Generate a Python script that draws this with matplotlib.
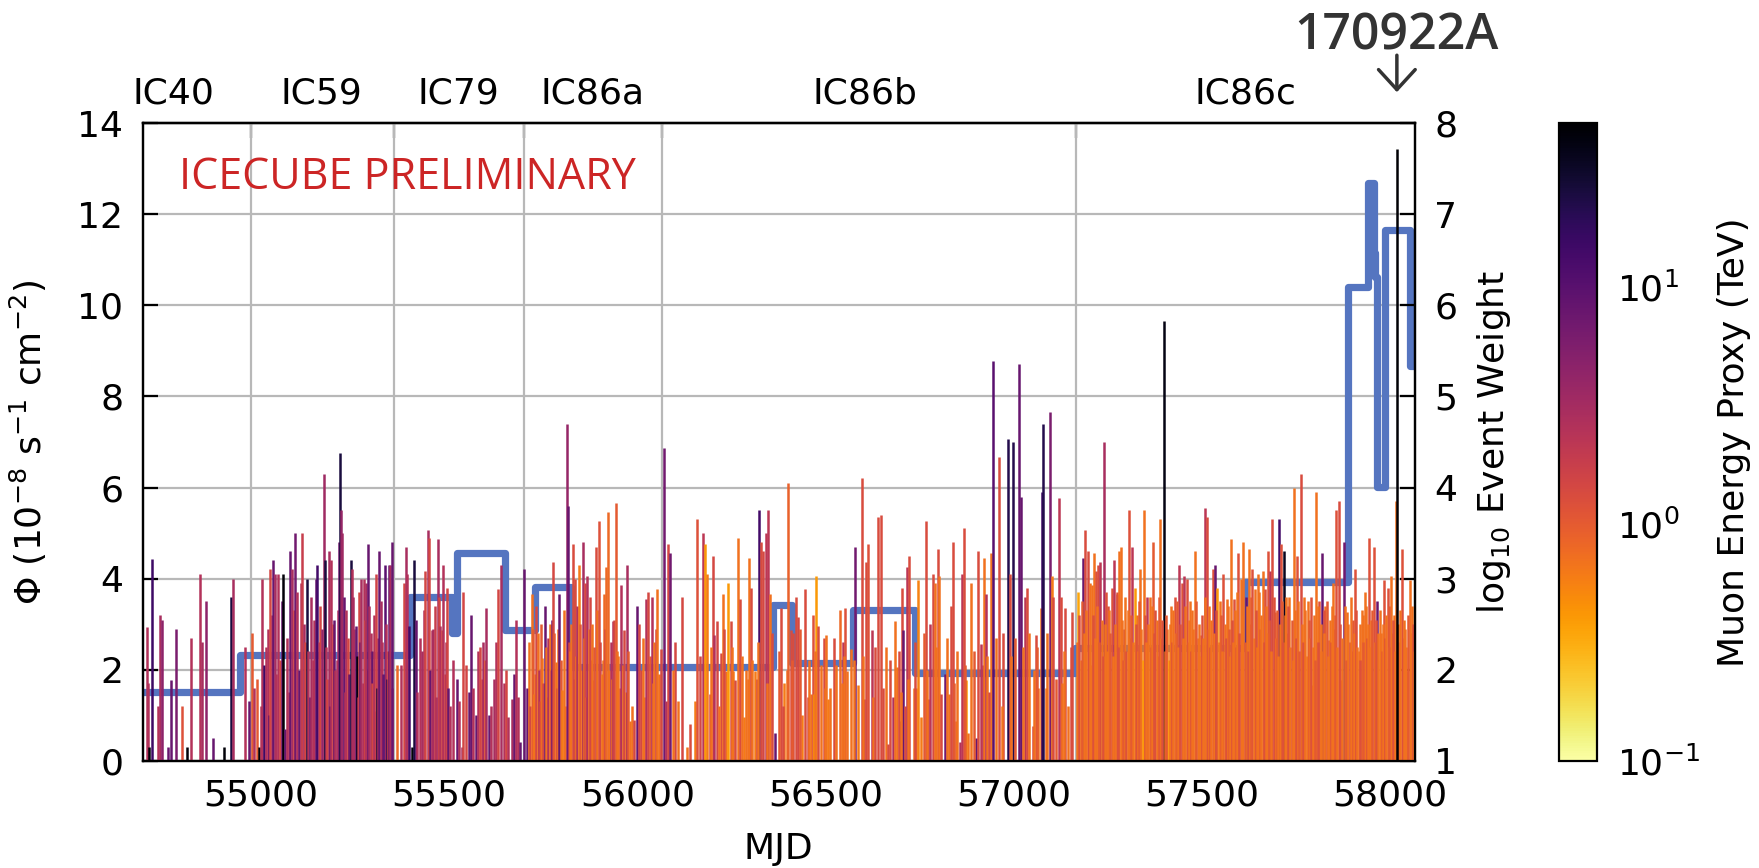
import matplotlib
matplotlib.use("Agg")
import matplotlib.pyplot as plt
import matplotlib.transforms as mtransforms
from matplotlib.colors import LogNorm
from matplotlib.cm import ScalarMappable

plt.rcParams['font.family'] = ['DejaVu Sans']
plt.rcParams['mathtext.fontset'] = 'dejavusans'

# ---------------------------------------------------------------- seasons
season_names = ["IC40", "IC59", "IC79", "IC86a", "IC86b", "IC86c"]
season_label_mjd = [54766, 55161, 55524, 55881, 56604, 57617]
season_bounds = [54973, 55353, 55698, 56067, 57167]

# ---------------------------------------------------------------- flux (10^-8 s^-1 cm^-2)
flux_edges = [54562, 54945, 55397, 55508, 55520, 55648, 55728, 55825, 56361, 56411,
              56573, 56738, 57163, 57615, 57890, 57942, 57958, 57962, 57966, 57988,
              58054, 58066]
flux_values = [1.51, 2.32, 3.60, 2.80, 4.56, 2.87, 3.82, 2.06, 3.42, 2.14,
               3.31, 1.93, 2.47, 3.93, 10.41, 12.68, 11.16, 10.63, 6.02, 11.66,
               8.66]

# ---------------------------------------------------------------- events: MJD, log10 weight, muon energy proxy (TeV)
ic40_mjd = [54696, 54700, 54702, 54709, 54725, 54731, 54738, 54752, 54762, 54773,
            54789, 54802, 54815, 54839, 54844, 54855, 54873, 54901, 54919, 54926,
            54957, 54968]
ic40_logw = [2.47, 1.85, 1.15, 3.22, 1.6, 2.6, 2.55, 1.15, 1.88, 2.45,
             1.6, 1.15, 2.35, 3.05, 2.3, 2.75, 1.25, 1.15, 2.8, 3.0,
             2.25, 1.65]
ic40_energy = [2.5, 2.5, 45, 15, 2.5, 3, 4.5, 8, 8, 6,
               1.2, 45, 2.5, 2.5, 3, 4.5, 8, 45, 25, 3,
               2.5, 8]

ic59_mjd = [54975, 54981, 54990, 54994, 55000, 55003, 55007, 55013, 55018, 55021,
            55025, 55029, 55032, 55037, 55041, 55046, 55051, 55055, 55059, 55065,
            55070, 55074, 55078, 55083, 55087, 55090, 55096, 55100, 55105, 55110,
            55115, 55118, 55121, 55126, 55130, 55134, 55137, 55140, 55145, 55150,
            55155, 55158, 55162, 55167, 55170, 55173, 55176, 55181, 55184, 55187,
            55190, 55194, 55197, 55201, 55204, 55207, 55211, 55212, 55216, 55220,
            55222, 55227, 55231, 55234, 55238, 55242, 55245, 55247, 55252, 55255,
            55258, 55261, 55264, 55267, 55270, 55273, 55276, 55279, 55282, 55285,
            55288, 55291, 55294, 55296, 55300, 55302, 55305, 55309, 55312, 55314,
            55318, 55322, 55325, 55329, 55332, 55334, 55338, 55341, 55344, 55347]
ic59_logw = [2.4, 1.8, 1.9, 1.15, 1.6, 3.0, 2.05, 2.25, 2.45, 1.5,
             3.1, 2.6, 3.2, 3.05, 1.95, 3.05, 2.1, 2.75, 3.05, 1.35,
             2.35, 1.75, 3.3, 3.1, 2.65, 3.5, 2.85, 2.0, 2.95, 3.5,
             2.5, 2.3, 3.0, 2.2, 1.7, 2.8, 2.1, 2.55, 3.0, 3.15,
             2.3, 2.7, 2.45, 4.15, 3.2, 2.25, 1.9, 3.3, 1.6, 3.2,
             2.5, 2.55, 2.0, 2.1, 2.65, 3.4, 4.38, 3.75, 3.5, 2.8,
             1.75, 2.65, 2.35, 1.95, 3.2, 3.1, 2.8, 2.45, 2.48, 2.15,
             1.7, 2.85, 2.3, 3.0, 1.85, 3.0, 2.55, 2.95, 2.0, 3.38,
             2.7, 2.4, 2.2, 1.85, 2.6, 1.55, 3.05, 1.8, 2.35, 3.3,
             2.75, 2.3, 1.95, 3.15, 2.5, 1.9, 2.2, 3.15, 3.15, 1.8]
ic59_energy = [1.0, 2.5, 1.0, 45, 2.5, 2.5, 15, 2.5, 2.5, 8,
               1.5, 2.5, 8, 3, 2.5, 2.5, 1.5, 8, 45, 8,
               2.5, 2.5, 8, 3, 1.5, 7, 2.5, 8, 2.5, 1.8,
               3, 1.5, 25, 2.5, 8, 3, 2.5, 2.5, 8, 14,
               3, 1.5, 4, 3.5, 25, 2.5, 1.5, 3, 8, 2.5,
               1.5, 8, 2.5, 3, 2.5, 7, 25, 4, 3.5, 8,
               2.5, 2.5, 1.5, 8, 25, 2.5, 3, 3, 8, 40,
               2.5, 1.5, 8, 3, 2.5, 2.5, 1.5, 3, 2.5, 8,
               3, 2.5, 8, 1.5, 2.5, 2.5, 1.6, 25, 2.5, 8,
               3, 2.5, 8, 10, 2.5, 20, 1.5, 8, 3, 2.5]

ic79_mjd = [55349, 55362, 55373, 55380, 55385, 55389, 55394, 55400, 55406, 55411,
            55415, 55422, 55429, 55433, 55437, 55443, 55447, 55450, 55454, 55458,
            55463, 55466, 55469, 55472, 55475, 55480, 55484, 55489, 55492, 55495,
            55498, 55502, 55511, 55520, 55527, 55533, 55536, 55545, 55553, 55558,
            55563, 55570, 55577, 55583, 55587, 55590, 55594, 55598, 55606, 55612,
            55620, 55625, 55630, 55639, 55645, 55651, 55657, 55667, 55672, 55677,
            55683, 55688]
ic79_logw = [3.4, 2.05, 2.05, 2.95, 3.35, 3.05, 2.48, 1.15, 3.2, 2.55,
             1.75, 2.35, 2.2, 2.65, 3.08, 3.53, 3.45, 2.0, 2.43, 2.45,
             2.7, 1.7, 3.43, 2.8, 2.48, 2.43, 3.15, 1.95, 2.3, 2.9,
             1.8, 1.6, 2.1, 1.9, 1.65, 1.15, 2.85, 2.05, 1.75, 2.6,
             1.8, 1.5, 2.2, 2.25, 1.9, 2.3, 2.1, 2.68, 1.5, 1.6,
             1.9, 2.3, 2.88, 3.15, 1.85, 2.0, 1.48, 1.68, 1.95, 2.55,
             1.7, 1.2]
ic79_energy = [8, 0.8, 2.5, 1.5, 3, 2.5, 14, 45, 25, 8,
               2.5, 2.5, 3, 2.5, 1.5, 3, 1.5, 8, 2.5, 3,
               1.8, 2.5, 3, 1.5, 2.5, 1.5, 2.5, 1.6, 2.5, 1.5,
               8, 2.5, 2.5, 8, 2.5, 3, 1.5, 1.5, 8, 8,
               2.5, 8, 2.5, 1.5, 1.5, 3, 1.0, 3, 8, 2.5,
               3, 2.5, 1.5, 3, 2.5, 1.5, 2.5, 3, 8, 2.5,
               2.5, 8]

ic86a_mjd = [55698, 55707, 55713, 55716, 55719, 55722, 55725, 55729, 55732, 55735,
             55738, 55741, 55744, 55747, 55750, 55754, 55757, 55760, 55763, 55767,
             55770, 55772, 55775, 55779, 55783, 55786, 55789, 55792, 55796, 55801,
             55805, 55809, 55812, 55815, 55818, 55821, 55825, 55828, 55831, 55834,
             55838, 55841, 55845, 55849, 55852, 55855, 55858, 55861, 55864, 55867,
             55871, 55874, 55877, 55880, 55883, 55886, 55890, 55893, 55897, 55900,
             55905, 55908, 55911, 55914, 55918, 55923, 55926, 55929, 55932, 55936,
             55939, 55943, 55946, 55949, 55953, 55958, 55961, 55965, 55969, 55973,
             55976, 55980, 55985, 55992, 55999, 56005, 56010, 56016, 56019, 56023,
             56029, 56033, 56038, 56041, 56045, 56049, 56053, 56057, 56063]
ic86a_logw = [3.1, 1.8, 2.3, 1.6, 2.83, 2.45, 1.73, 1.95, 2.7, 2.4,
              2.0, 1.65, 2.5, 2.13, 1.85, 2.7, 2.25, 1.7, 2.35, 2.5,
              2.0, 2.55, 3.18, 2.4, 2.08, 1.8, 2.45, 2.83, 2.1, 1.78,
              2.65, 1.6, 4.7, 3.8, 2.3, 2.2, 2.5, 3.38, 1.9, 3.0,
              2.15, 2.7, 3.15, 2.5, 2.0, 3.4, 2.35, 2.95, 1.7, 3.03,
              2.45, 2.8, 2.1, 2.5, 1.88, 2.25, 3.35, 2.65, 3.63, 2.3,
              1.95, 2.1, 2.83, 2.45, 3.13, 3.73, 2.0, 2.3, 1.9, 2.53,
              2.55, 3.83, 2.2, 2.15, 1.8, 2.93, 2.05, 2.43, 1.75, 3.15,
              2.2, 1.43, 1.6, 1.45, 2.7, 2.5, 2.0, 2.35, 1.7, 2.78,
              2.85, 2.15, 2.8, 1.85, 2.3, 2.45, 2.88, 1.95, 2.23]
ic86a_energy = [8, 8, 0.7, 1.4, 0.7, 1.0, 0.6, 0.7, 1.4, 0.7,
                2.5, 1.4, 1.0, 0.7, 1.4, 8, 0.7, 0.7, 2.5, 0.7,
                1.4, 7, 1.4, 1.0, 0.7, 1.4, 0.7, 8, 1.0, 0.6,
                0.7, 0.7, 4, 8, 1.4, 0.7, 0.7, 1.3, 1.4, 1.3,
                0.7, 2.5, 0.6, 1.0, 0.7, 3, 0.7, 1.4, 1.0, 2.5,
                0.7, 1.4, 1.4, 0.7, 0.7, 1.0, 1.3, 0.7, 1.2, 1.4,
                0.6, 0.7, 0.8, 1.4, 0.8, 0.8, 0.7, 2.5, 0.7, 2.5,
                1.4, 1.0, 0.7, 0.7, 1.0, 2.5, 0.7, 1.4, 0.7, 3,
                1.0, 0.7, 0.7, 1.4, 8, 1.4, 1.4, 0.7, 0.7, 2.5,
                1.4, 1.0, 2.5, 0.7, 0.7, 1.4, 0.7, 0.7, 1.4]

ic86b_mjd = [56070, 56076, 56082, 56087, 56100, 56107, 56118, 56131, 56153, 56160,
             56166, 56174, 56180, 56184, 56193, 56200, 56204, 56211, 56222, 56227,
             56235, 56242, 56248, 56255, 56261, 56268, 56273, 56284, 56290, 56297,
             56302, 56312, 56318, 56324, 56329, 56335, 56342, 56348, 56352, 56357,
             56366, 56383, 56391, 56397, 56401, 56408, 56414, 56422, 56428, 56437,
             56446, 56454, 56461, 56466, 56470, 56476, 56481, 56488, 56495, 56501,
             56506, 56512, 56523, 56539, 56546, 56553, 56558, 56567, 56579, 56587,
             56596, 56602, 56609, 56614, 56623, 56640, 56649, 56660, 56667, 56679,
             56684, 56691, 56698, 56704, 56705, 56711, 56717, 56723, 56736, 56742,
             56747, 56754, 56767, 56773, 56778, 56785, 56791, 56798, 56802, 56806,
             56818, 56829, 56833, 56840, 56846, 56858, 56862, 56868, 56875, 56879,
             56886, 56900, 56906, 56913, 56918, 56922, 56927, 56939, 56945, 56962,
             56973, 56986, 56990, 56999, 57015, 57020, 57031, 57037, 57051, 57060,
             57066, 57072, 57076, 57077, 57090, 57096, 57101, 57105, 57120, 57126,
             57137, 57144, 57156,
             56094, 56140, 56197, 56218, 56231, 56251, 56278, 56293, 56305, 56321,
             56345, 56376, 56387, 56411, 56432, 56457, 56473, 56498, 56527, 56543,
             56550, 56575, 56599, 56627, 56631, 56653, 56672, 56695, 56701, 56720,
             56739, 56762, 56770, 56795, 56822, 56843, 56850, 56872, 56895, 56930,
             56934, 56953, 56969, 56994, 57004, 57025, 57041, 57055, 57063, 57085,
             57113, 57130, 57134, 57152]
ic86b_logw = [4.43, 1.65, 3.38, 3.28, 2.3, 1.65, 2.8, 1.15, 1.65, 3.65,
              2.15, 3.5, 3.38, 3.05, 1.73, 3.25, 2.38, 2.53, 2.18, 2.83,
              1.98, 2.95, 2.53, 1.98, 1.88, 3.45, 2.78, 1.48, 2.0, 3.23,
              2.9, 1.98, 1.9, 3.75, 3.4, 3.3, 3.5, 3.75, 2.83, 2.4,
              1.3, 2.68, 1.85, 2.0, 4.05, 2.43, 2.4, 2.8, 2.58, 1.5,
              2.88, 1.7, 1.73, 2.6, 1.73, 3.03, 2.48, 2.05, 2.35, 2.38,
              1.68, 1.8, 2.35, 2.65, 2.3, 2.68, 1.98, 2.23, 3.35, 1.83,
              4.1, 1.68, 3.18, 3.38, 2.43, 3.68, 3.7, 2.25, 1.18, 1.7,
              2.53, 2.03, 1.43, 2.9, 2.43, 1.6, 3.13, 3.25, 1.8, 1.8,
              2.98, 1.48, 3.63, 1.68, 2.5, 3.05, 2.95, 3.33, 3.03, 1.73,
              1.95, 1.73, 2.7, 3.4, 1.43, 1.2, 3.05, 3.55, 1.88, 1.3,
              2.95, 1.25, 3.3, 2.28, 2.05, 3.23, 2.83, 3.28, 5.39, 4.33,
              2.4, 4.53, 3.05, 4.5, 5.36, 3.9, 2.8, 2.9, 1.38, 2.38,
              1.8, 2.68, 3.95, 4.7, 2.4, 4.83, 3.03, 2.8, 3.88, 2.8,
              2.68, 1.6, 2.63,
              2.0, 1.4, 2.25, 1.6, 2.45, 2.25, 2.15, 1.9, 2.1, 2.3,
              1.85, 2.2, 1.6, 2.1, 2.45, 2.1, 2.2, 1.8, 2.05, 1.85,
              2.15, 2.1, 2.15, 1.7, 2.25, 1.8, 2.1, 2.2, 1.75, 1.9,
              2.3, 2.4, 2.0, 2.25, 2.35, 1.85, 2.2, 2.05, 2.2, 2.15,
              1.75, 2.35, 1.6, 2.15, 2.35, 2.25, 2.4, 2.0, 2.25, 1.8,
              1.9, 1.85, 2.2, 2.25]
ic86b_energy = [7, 2.5, 1.4, 7, 1.4, 0.7, 1.4, 0.7, 0.6, 1.2,
                1.4, 2.2, 0.4, 0.6, 1.4, 1.4, 2.5, 1.4, 1.3, 0.7,
                0.7, 0.4, 1.3, 0.6, 1.3, 0.7, 1.3, 0.6, 0.7, 0.7,
                1.3, 0.6, 1.3, 14, 1.3, 1.4, 2.2, 2.2, 0.7, 1.3,
                8, 1.3, 0.6, 0.7, 0.9, 1.3, 1.3, 1.3, 1.4, 0.6,
                1.3, 1.3, 0.7, 1.2, 0.4, 0.4, 1.3, 0.7, 1.3, 0.7,
                0.6, 0.7, 1.3, 0.8, 2.2, 1.2, 0.7, 0.7, 7, 0.6,
                1.3, 2.2, 1.3, 1.2, 2.2, 1.3, 1.3, 0.7, 1.3, 2.5,
                0.7, 0.7, 8, 1.3, 8, 1.3, 2.2, 1.3, 0.7, 0.7,
                0.55, 0.6, 1.3, 1.3, 2.2, 1.3, 0.7, 1.3, 0.7, 1.3,
                7, 0.7, 1.3, 1.3, 0.7, 2.5, 2.2, 1.3, 0.4, 0.7,
                0.7, 8, 1.3, 2.2, 2.2, 0.7, 2.5, 0.7, 10, 1.3,
                1.3, 22, 1.3, 22, 8, 8, 2.2, 1.3, 1.3, 1.3,
                0.7, 0.7, 14, 22, 0.7, 6, 0.6, 1.3, 2.2, 1.3,
                1.3, 0.7, 1.3,
                0.7, 1.3, 0.7, 0.7, 1.3, 0.7, 0.7, 0.7, 0.7, 0.7,
                0.7, 1.0, 1.3, 1.0, 1.0, 0.7, 0.7, 0.7, 0.7, 0.7,
                0.7, 0.7, 0.7, 0.7, 1.3, 1.3, 1.3, 1.3, 0.7, 0.7,
                1.3, 1.0, 0.7, 0.7, 0.7, 1.0, 0.7, 1.0, 1.0, 0.7,
                1.3, 0.7, 0.7, 0.7, 1.0, 0.7, 0.7, 0.7, 1.0, 0.7,
                1.0, 0.7, 0.7, 1.3]

ic86c_mjd = [57172, 57184, 57190, 57197, 57208, 57214, 57219, 57225, 57231, 57240,
             57246, 57252, 57254, 57261, 57267, 57274, 57276, 57281, 57285, 57294,
             57306, 57315, 57322, 57328, 57337, 57346, 57355, 57362, 57370, 57377,
             57389, 57400, 57409, 57419, 57428, 57440, 57447, 57453, 57460, 57469,
             57482, 57489, 57498, 57508, 57513, 57529, 57535, 57542, 57549, 57558,
             57567, 57578, 57586, 57597, 57604, 57611, 57618, 57626, 57635, 57641,
             57650, 57662, 57668, 57677, 57682, 57688, 57695, 57706, 57711, 57718,
             57724, 57733, 57745, 57754, 57763, 57773, 57782, 57793, 57805, 57813,
             57821, 57829, 57838, 57849, 57858, 57864, 57871, 57878, 57887, 57907,
             57917, 57925, 57933, 57945, 57951, 57958, 57967, 57976, 57985, 57994,
             58002, 58011, 58016, 58032, 58040, 58046, 58053, 58059,
             57170, 57175, 57178, 57181, 57187, 57193, 57200, 57203, 57205, 57211,
             57216, 57222, 57228, 57234, 57237, 57243, 57249, 57257, 57264, 57270,
             57278, 57288, 57291, 57297, 57300, 57303, 57309, 57312, 57318, 57325,
             57331, 57334, 57340, 57343, 57349, 57352, 57358, 57365, 57367, 57373,
             57380, 57383, 57386, 57392, 57395, 57403, 57406, 57412, 57415, 57422,
             57425, 57431, 57434, 57437, 57443, 57450, 57456, 57463, 57466, 57472,
             57475, 57478, 57485, 57492, 57495, 57501, 57504, 57510, 57516, 57519,
             57522, 57525, 57532, 57538, 57545, 57552, 57555, 57561, 57564, 57570,
             57573, 57576, 57581, 57583, 57589, 57592, 57594, 57600, 57607, 57614,
             57621, 57623, 57629, 57632, 57638, 57644, 57647, 57653, 57656, 57659,
             57665, 57671, 57674, 57680, 57685, 57691, 57698, 57701, 57703, 57708,
             57714, 57716, 57721, 57727, 57730, 57736, 57739, 57742, 57748, 57751,
             57757, 57760, 57766, 57769, 57776, 57779, 57785, 57788, 57791, 57796,
             57799, 57802, 57808, 57810, 57816, 57818, 57824, 57826, 57832, 57835,
             57841, 57844, 57846, 57852, 57855, 57861, 57867, 57874, 57881, 57884,
             57890, 57893, 57896, 57899, 57902, 57904, 57910, 57913, 57920, 57922,
             57928, 57930, 57936, 57939, 57942, 57948, 57954, 57961, 57964, 57970,
             57973, 57979, 57982, 57988, 57991, 57997, 57999, 58005, 58008, 58013,
             58022, 58025, 58028, 58035, 58037, 58043, 58049, 58056, 58062, 58065]
ic86c_logw = [2.85, 3.23, 3.53, 3.3, 2.93, 3.28, 3.08, 3.15, 3.18, 4.5,
              2.85, 2.7, 2.65, 2.9, 3.2, 2.83, 2.85, 3.3, 3.35, 2.45,
              3.75, 3.35, 2.9, 2.6, 3.1, 3.75, 2.8, 2.8, 3.4, 2.65,
              3.65, 5.83, 2.45, 2.7, 2.8, 3.15, 2.95, 3.03, 3.0, 2.75,
              3.3, 2.35, 2.38, 3.78, 3.68, 3.1, 3.15, 2.9, 2.75, 3.05,
              2.78, 3.43, 2.78, 3.28, 3.0, 3.4, 2.8, 3.33, 3.1, 2.88,
              3.05, 3.08, 2.88, 3.3, 3.08, 3.65, 2.63, 3.65, 3.38, 3.3,
              2.8, 2.8, 4.0, 3.25, 4.15, 2.8, 2.75, 1.83, 3.95, 2.75,
              3.28, 2.7, 2.33, 2.95, 3.75, 3.85, 1.88, 3.4, 2.63, 3.1,
              2.2, 2.65, 2.85, 3.45, 2.55, 3.35, 2.75, 2.4, 2.98, 2.9,
              3.03, 2.6, 3.85, 3.33, 2.45, 1.98, 2.98, 2.7,
              2.3, 2.6, 2.1, 2.75, 2.4, 2.65, 2.25, 2.95, 2.05, 2.6,
              2.35, 2.7, 2.3, 2.55, 2.15, 2.5, 2.2, 2.4, 2.15, 2.5,
              2.25, 2.55, 2.1, 2.8, 2.2, 2.65, 2.35, 2.6, 2.3, 2.5,
              2.2, 2.75, 2.45, 2.1, 2.6, 2.3, 2.5, 2.25, 2.7, 2.4,
              2.55, 2.15, 2.8, 2.35, 2.55, 2.2, 2.6, 2.1, 2.5, 2.3,
              2.65, 2.4, 2.75, 2.25, 2.5, 2.35, 2.7, 2.3, 2.55, 2.2,
              2.65, 2.45, 2.75, 2.5, 2.15, 2.6, 2.35, 2.8, 2.45, 2.7,
              2.25, 2.55, 2.4, 2.65, 2.3, 2.6, 2.2, 2.5, 2.35, 2.7,
              2.45, 2.15, 2.55, 2.3, 2.65, 2.25, 2.85, 2.4, 2.6, 2.3,
              2.7, 2.2, 2.5, 2.8, 2.35, 2.65, 2.25, 2.85, 2.45, 2.6,
              2.3, 2.7, 2.4, 2.55, 2.2, 2.8, 2.35, 2.65, 2.15, 2.5,
              2.75, 2.3, 2.6, 2.4, 2.7, 2.25, 2.55, 2.1, 2.65, 2.35,
              2.75, 2.2, 2.5, 2.3, 2.65, 2.15, 2.55, 2.35, 2.8, 2.25,
              2.6, 2.1, 2.7, 2.3, 2.5, 2.2, 2.65, 2.4, 2.75, 2.15,
              2.55, 2.3, 2.7, 2.45, 2.6, 2.25, 2.5, 2.35, 2.7, 2.1,
              2.5, 2.3, 2.8, 2.2, 2.55, 2.4, 2.65, 2.25, 2.5, 2.1,
              2.6, 2.3, 2.7, 2.35, 2.5, 2.25, 2.65, 2.3, 2.55, 2.4,
              2.65, 2.2, 2.5, 2.35, 2.6, 2.25, 2.7, 2.4, 2.55, 2.2,
              2.5, 2.3, 2.65, 2.35, 2.55, 2.25, 2.6, 2.4, 2.5, 2.2]
ic86c_energy = [0.35, 8, 1.3, 1.3, 0.7, 0.7, 1.2, 1.3, 2.2, 3,
                1.2, 1.2, 0.7, 1.2, 2.2, 1.2, 1.2, 0.7, 0.7, 2.2,
                1.2, 2.2, 0.4, 0.7, 0.7, 0.7, 2.2, 0.7, 1.0, 1.2,
                0.7, 40, 0.6, 0.7, 1.2, 2.2, 1.2, 2.2, 1.2, 0.7,
                0.7, 0.6, 1.2, 2.2, 1.3, 1.2, 8, 0.4, 0.7, 1.2,
                0.7, 0.7, 1.2, 1.2, 0.7, 0.7, 8, 0.7, 1.2, 0.7,
                0.7, 0.7, 1.2, 1.2, 2.2, 1.3, 0.7, 14, 1.2, 35,
                0.7, 0.7, 0.7, 1.2, 1.3, 0.7, 0.7, 0.7, 0.7, 1.2,
                8, 0.7, 1.2, 0.7, 1.2, 1.3, 1.2, 7, 0.7, 1.2,
                0.7, 0.7, 0.7, 1.2, 0.7, 1.2, 8, 0.7, 1.2, 1.2,
                0.7, 0.7, 0.7, 1.2, 0.7, 1.2, 0.7, 0.7,
                0.7, 1.2, 0.7, 1.0, 0.7, 0.7, 1.2, 0.7, 0.7, 1.2,
                0.7, 0.7, 1.0, 0.7, 1.2, 0.7, 0.7, 1.0, 0.7, 0.7,
                1.2, 0.7, 1.0, 0.7, 1.2, 0.7, 0.7, 1.0, 0.7, 1.2,
                0.7, 1.0, 0.7, 0.4, 1.2, 0.7, 0.7, 1.0, 0.7, 1.2,
                0.7, 0.7, 1.0, 0.7, 1.2, 0.7, 1.0, 0.4, 0.7, 1.2,
                0.7, 0.7, 1.0, 0.7, 1.2, 0.7, 0.7, 1.0, 0.7, 1.2,
                0.7, 0.7, 1.0, 0.7, 0.7, 1.2, 0.7, 0.7, 1.0, 0.7,
                1.2, 0.7, 0.7, 1.2, 0.7, 1.0, 0.7, 0.7, 1.2, 0.7,
                1.0, 0.7, 1.2, 0.7, 0.7, 1.0, 0.7, 1.2, 0.7, 1.0,
                0.7, 1.2, 0.7, 1.0, 0.7, 1.2, 0.7, 0.7, 1.0, 0.7,
                1.2, 0.7, 0.7, 1.0, 0.7, 1.2, 0.7, 1.0, 0.7, 0.7,
                1.0, 1.2, 0.7, 0.7, 1.2, 0.7, 1.0, 0.7, 0.7, 1.2,
                0.7, 1.0, 0.7, 1.2, 0.7, 0.7, 1.0, 0.7, 1.2, 0.7,
                0.7, 1.0, 0.7, 1.2, 0.7, 0.7, 1.2, 0.7, 1.0, 0.7,
                0.7, 1.2, 0.7, 0.7, 1.0, 0.7, 1.2, 0.7, 0.7, 1.0,
                0.7, 1.2, 0.7, 0.7, 1.0, 0.7, 1.2, 0.7, 0.7, 1.2,
                0.7, 1.0, 0.7, 1.2, 0.7, 0.7, 1.0, 0.7, 1.2, 0.7,
                0.7, 1.0, 0.7, 1.2, 0.7, 0.7, 1.0, 0.7, 1.2, 0.7,
                0.7, 1.0, 0.7, 1.2, 0.7, 0.7, 1.0, 0.7, 1.2, 0.7]

# IceCube-170922A
alert_mjd = 58018.87
alert_logw = 7.72
alert_energy = 290.0
alert_name = "170922A"

# ---------------------------------------------------------------- figure
fig = plt.figure(figsize=(17.59, 8.68), dpi=100)
ax = fig.add_axes([0.08124, 0.12373, 0.72297, 0.73410])
ax2 = ax.twinx()
cax = fig.add_axes([0.88630, 0.12373, 0.02177, 0.73410])

grid_color = '#b8b8b8'
ax.set_xlim(54686, 58066)
ax.set_ylim(0, 14)
ax2.set_ylim(1, 8)

ax.set_yticks(range(0, 15, 2))
ax.yaxis.grid(True, color=grid_color, linewidth=1.6)
for b in season_bounds:
    ax.axvline(b, color=grid_color, linewidth=1.6, zorder=0.8)
ax.set_axisbelow(True)

# flux light curve
ax.stairs(flux_values, flux_edges, baseline=None, fill=False,
          color='#5575c0', linewidth=5.2, joinstyle='round', capstyle='round',
          zorder=2)

# event weights coloured by energy
cmap = plt.get_cmap('inferno_r')
norm = LogNorm(vmin=0.1, vmax=49)
seasons = [(ic40_mjd, ic40_logw, ic40_energy),
           (ic59_mjd, ic59_logw, ic59_energy),
           (ic79_mjd, ic79_logw, ic79_energy),
           (ic86a_mjd, ic86a_logw, ic86a_energy),
           (ic86b_mjd, ic86b_logw, ic86b_energy),
           (ic86c_mjd, ic86c_logw, ic86c_energy)]
for mjd, logw, energy in seasons:
    ax2.vlines(mjd, 1, logw, colors=cmap(norm(energy)), linewidth=1.8)
ax2.vlines([alert_mjd], 1, [alert_logw], colors=[cmap(norm(alert_energy))],
           linewidth=1.8)

# ticks
tick_fs = 26
ax.set_xticks(range(55000, 58001, 500))
ax.tick_params(axis='x', which='both', bottom=True, top=False, length=0,
               labelsize=tick_fs, pad=13)
ax.tick_params(axis='y', direction='in', length=11, width=1.6,
               labelsize=tick_fs, pad=14)
ax2.set_yticks(range(1, 9))
ax2.tick_params(axis='y', direction='in', length=11, width=1.6,
                labelsize=tick_fs, pad=14)
for a in (ax, ax2):
    for s in a.spines.values():
        s.set_linewidth(1.6)

sec = ax.secondary_xaxis('top')
sec.set_xticks(season_bounds)
sec.tick_params(axis='x', direction='in', length=11, width=1.6,
                labeltop=False, labelbottom=False)
sec.spines['top'].set_linewidth(1.6)

# season names above the frame
top_trans = mtransforms.blended_transform_factory(ax.transData, ax.transAxes)
for name, m in zip(season_names, season_label_mjd):
    ax.text(m, 1.032, name, transform=top_trans, ha='center', va='baseline',
            fontsize=tick_fs, clip_on=False)

# labels
ax.set_xlabel('MJD', fontsize=tick_fs)
ax.xaxis.set_label_coords(0.5, -0.112)
ax.set_ylabel(r'$\Phi$ ($10^{-8}$ s$^{-1}$ cm$^{-2}$)', fontsize=tick_fs)
ax.yaxis.set_label_coords(-0.0738, 0.5)
ax2.set_ylabel(r'log$_{10}$ Event Weight', fontsize=tick_fs)
ax2.yaxis.set_label_coords(1.0475, 0.5)

ax.text(0.0286, 0.8966, 'ICECUBE PRELIMINARY', transform=ax.transAxes,
        color='#cc2525', fontsize=31, family=['Open Sans', 'DejaVu Sans'],
        ha='left', va='baseline', zorder=1)

# alert marker
ax.text(alert_mjd, 1.1152, alert_name, transform=top_trans, ha='center',
        va='baseline', fontsize=36, family=['Open Sans', 'DejaVu Sans'],
        fontweight='semibold', color='#333333', clip_on=False)
ax.annotate('', xy=(alert_mjd, 1.049), xycoords=top_trans,
            xytext=(alert_mjd, 1.107), textcoords=top_trans,
            arrowprops=dict(arrowstyle='->, head_length=0.6, head_width=0.55',
                            color='#333333', lw=2.5, mutation_scale=24,
                            shrinkA=0, shrinkB=0),
            annotation_clip=False)

# colour bar
sm = ScalarMappable(norm=norm, cmap=cmap)
cb = fig.colorbar(sm, cax=cax)
cb.set_ticks([0.1, 1, 10])
cax.minorticks_off()
cax.tick_params(axis='y', length=0, labelsize=tick_fs, pad=14)
cb.outline.set_linewidth(1.6)
cb.set_label('Muon Energy Proxy (TeV)', fontsize=tick_fs)
cax.yaxis.set_label_coords(4.12, 0.5)

fig.savefig('out.png', dpi=100)
